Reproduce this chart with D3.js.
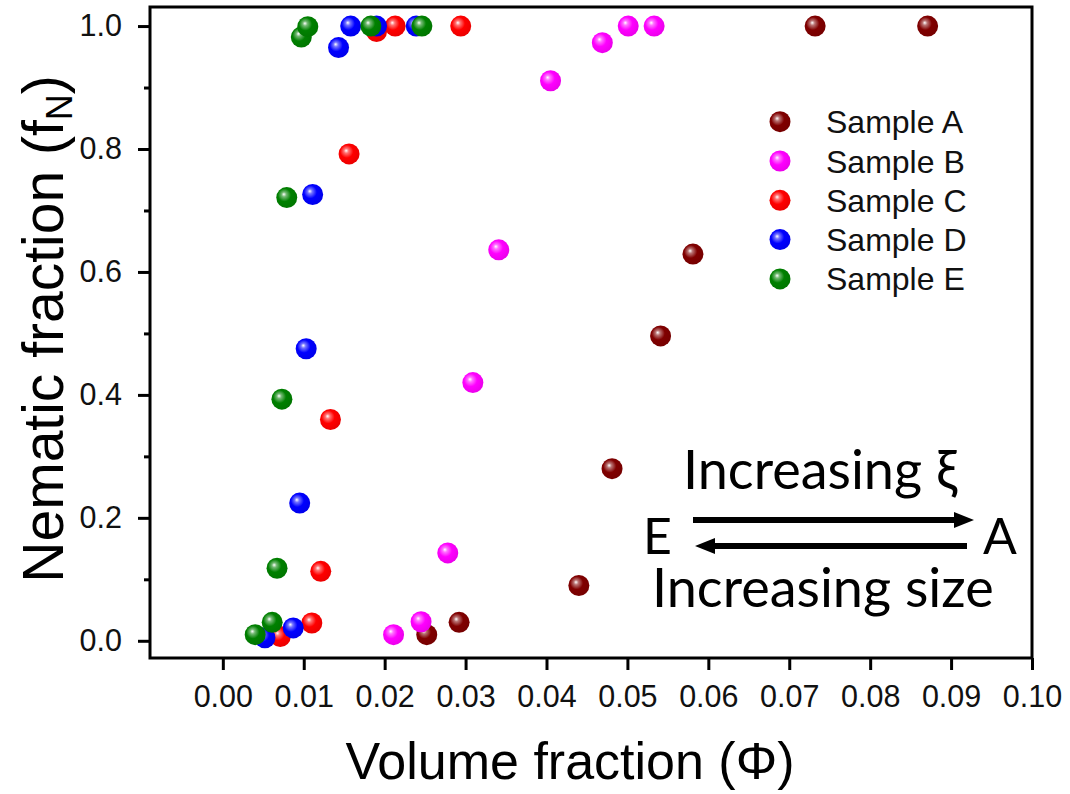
<!DOCTYPE html>
<html>
<head>
<meta charset="utf-8">
<script src="https://cdn.jsdelivr.net/npm/d3@7"></script>
<style>
  body { margin: 0; background: #fff; }
  svg { display: block; }
  .tick text { font-family: "Liberation Sans", Arial, sans-serif; }
</style>
</head>
<body>
<svg id="chart" width="1070" height="794"></svg>
<script>
// Nematic fraction versus volume fraction for five samples
const sampleNames = ["Sample A", "Sample B", "Sample C", "Sample D", "Sample E"];
const sampleColors = ["#800000", "#ff00ff", "#ff0000", "#0000ff", "#008000"];

const phiA = [0.0252, 0.0292, 0.0440, 0.0481, 0.0541, 0.0581, 0.0732, 0.0871];
const fA   = [0.010, 0.030, 0.090, 0.280, 0.496, 0.629, 1.000, 1.000];

const phiB = [0.0211, 0.0245, 0.0278, 0.0309, 0.0341, 0.0405, 0.0469, 0.0501, 0.0533];
const fB   = [0.010, 0.031, 0.143, 0.420, 0.636, 0.911, 0.973, 1.000, 1.000];

const phiC = [0.0071, 0.0110, 0.0121, 0.0133, 0.0156, 0.0190, 0.0213, 0.0294];
const fC   = [0.007, 0.029, 0.113, 0.360, 0.792, 0.991, 1.000, 1.000];

const phiD = [0.0052, 0.0087, 0.0095, 0.0103, 0.0111, 0.0143, 0.0158, 0.0190, 0.0239];
const fD   = [0.005, 0.021, 0.224, 0.475, 0.726, 0.965, 1.000, 1.000, 1.000];

const phiE = [0.0040, 0.0061, 0.0067, 0.0073, 0.0079, 0.0097, 0.0105, 0.0183, 0.0246];
const fE   = [0.010, 0.030, 0.118, 0.393, 0.721, 0.982, 0.999, 1.000, 1.000];

const xTickValues = [0, 0.01, 0.02, 0.03, 0.04, 0.05, 0.06, 0.07, 0.08, 0.09, 0.10];
const yTickValues = [0, 0.2, 0.4, 0.6, 0.8, 1.0];
const yMinorTickValues = [0.1, 0.3, 0.5, 0.7, 0.9];

const seriesPhi = [phiA, phiB, phiC, phiD, phiE];
const seriesF = [fA, fB, fC, fD, fE];

const svg = d3.select("#chart");
const plot = { left: 150, right: 1032, top: 7, bottom: 658 };

const x = d3.scaleLinear().domain([-0.009, 0.1]).range([plot.left, plot.right]);
const y = d3.scaleLinear().domain([-0.028, 1.031]).range([plot.bottom, plot.top]);

// Glossy sphere fills
const defs = svg.append("defs");
sampleColors.forEach((c, i) => {
  const g = defs.append("radialGradient")
    .attr("id", "ball" + i)
    .attr("cx", "0.42").attr("cy", "0.42").attr("r", "0.62")
    .attr("fx", "0.36").attr("fy", "0.34");
  g.append("stop").attr("offset", "0").attr("stop-color", "#ffffff");
  g.append("stop").attr("offset", "0.18").attr("stop-color", d3.interpolateRgb("#ffffff", c)(0.55));
  g.append("stop").attr("offset", "0.5").attr("stop-color", c);
  g.append("stop").attr("offset", "1").attr("stop-color", d3.color(c).darker(0.25).formatHex());
});

// Axes
const fontTick = 30.5;
const xAxis = d3.axisBottom(x).tickValues(xTickValues).tickFormat(d3.format(".2f"))
  .tickSize(12).tickSizeOuter(0).tickPadding(15);
const gx = svg.append("g").attr("transform", `translate(0,${plot.bottom})`).call(xAxis);
gx.select(".domain").remove();

const yAxis = d3.axisLeft(y).tickValues(yTickValues).tickFormat(d3.format(".1f"))
  .tickSize(12).tickSizeOuter(0).tickPadding(16);
const gy = svg.append("g").attr("transform", `translate(${plot.left},0)`).call(yAxis);
gy.select(".domain").remove();

const gyMinor = svg.append("g").attr("transform", `translate(${plot.left},0)`)
  .call(d3.axisLeft(y).tickValues(yMinorTickValues).tickFormat("").tickSize(6).tickSizeOuter(0));
gyMinor.select(".domain").remove();

[gx, gy, gyMinor].forEach(g => {
  g.selectAll(".tick line").attr("stroke", "#000").attr("stroke-width", 3);
  g.selectAll(".tick text").attr("fill", "#111").style("font-size", fontTick + "px");
});

// Frame
svg.append("rect")
  .attr("x", plot.left).attr("y", plot.top)
  .attr("width", plot.right - plot.left).attr("height", plot.bottom - plot.top)
  .attr("fill", "none").attr("stroke", "#000").attr("stroke-width", 3);

// Axis titles
svg.append("text")
  .attr("x", 570).attr("y", 779)
  .attr("text-anchor", "middle")
  .style("font-family", '"Liberation Sans", Arial, sans-serif')
  .style("font-size", "52px").attr("fill", "#000")
  .text("Volume fraction (Φ)");

const yt = svg.append("text")
  .attr("transform", "translate(63,329) rotate(-90)")
  .attr("text-anchor", "middle")
  .style("font-family", '"Liberation Sans", Arial, sans-serif')
  .style("font-size", "57px").attr("fill", "#000");
yt.append("tspan").text("Nematic fraction (f");
yt.append("tspan").attr("dy", "0.25em").style("font-size", "36px").text("N");
yt.append("tspan").attr("dy", "-0.16em").text(")");

// Data points
seriesPhi.forEach((phis, i) => {
  svg.append("g").selectAll("circle")
    .data(phis.map((p, j) => [p, seriesF[i][j]]))
    .join("circle")
    .attr("cx", d => x(d[0]))
    .attr("cy", d => y(d[1]))
    .attr("r", 10.5)
    .attr("fill", `url(#ball${i})`);
});

// Legend
const legend = svg.append("g");
sampleNames.forEach((name, i) => {
  const ly = 121.7 + i * 39.3;
  legend.append("circle").attr("cx", 780).attr("cy", ly).attr("r", 10.5).attr("fill", `url(#ball${i})`);
  legend.append("text").attr("x", 826).attr("y", ly).attr("dy", "0.36em")
    .style("font-family", '"Liberation Sans", Arial, sans-serif')
    .style("font-size", "32px").attr("fill", "#111").text(name);
});

// Annotation: direction of increasing correlation length and size
const annFont = "Lato, 'Open Sans', sans-serif";
const ann = svg.append("g").style("font-family", annFont).attr("fill", "#000");
ann.append("text").attr("x", 683).attr("y", 489).style("font-size", "54px").text("Increasing ξ");
ann.append("text").attr("x", 652).attr("y", 607).style("font-size", "54px").text("Increasing size");
ann.append("text").attr("x", 643).attr("y", 554).style("font-size", "50px").text("E");
ann.append("text").attr("x", 983).attr("y", 554).style("font-size", "50px").text("A");

const arrowHead = (tipX, yy, dir) => {
  const len = 20, half = 8;
  return `M${tipX},${yy} L${tipX - dir * len},${yy - half} L${tipX - dir * len},${yy + half} Z`;
};
ann.append("line").attr("x1", 693).attr("x2", 958).attr("y1", 520).attr("y2", 520)
  .attr("stroke", "#000").attr("stroke-width", 6);
ann.append("path").attr("d", arrowHead(974, 520, 1));
ann.append("line").attr("x1", 710).attr("x2", 967).attr("y1", 546).attr("y2", 546)
  .attr("stroke", "#000").attr("stroke-width", 6);
ann.append("path").attr("d", arrowHead(695, 546, -1));
</script>
</body>
</html>
